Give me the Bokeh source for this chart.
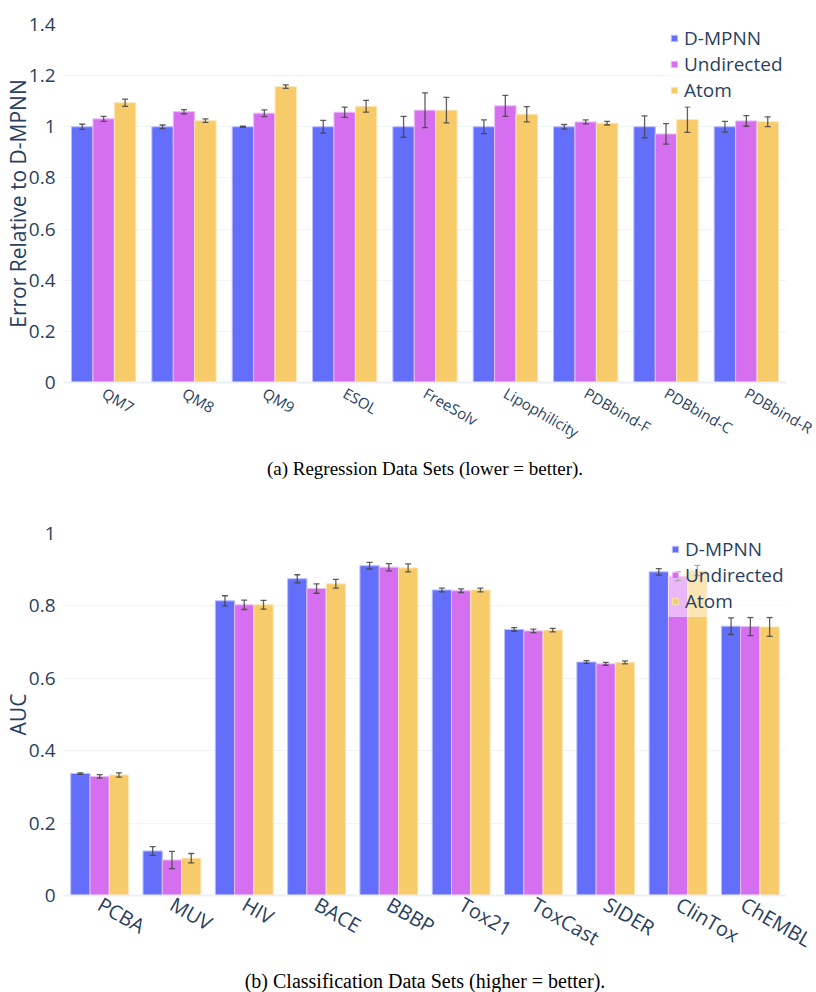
import math
from bokeh.plotting import figure
from bokeh.models import (ColumnDataSource, FactorRange, Range1d, FixedTicker,
                          NumeralTickFormatter, Legend, LegendItem, Title)
from bokeh.transform import dodge
from bokeh.layouts import column
from bokeh.embed import file_html
from bokeh.resources import INLINE

# ---------------- data ----------------
reg_cats = ["QM7", "QM8", "QM9", "ESOL", "FreeSolv", "Lipophilicity",
            "PDBbind-F", "PDBbind-C", "PDBbind-R"]
reg_dmpnn = [1.0, 1.0, 1.0, 1.0, 1.0, 1.0, 1.0, 1.0, 1.0]
reg_dmpnn_err = [0.010, 0.007, 0.002, 0.025, 0.041, 0.027, 0.009, 0.043, 0.021]
reg_undir = [1.031, 1.059, 1.053, 1.057, 1.065, 1.082, 1.019, 0.972, 1.023]
reg_undir_err = [0.010, 0.008, 0.013, 0.020, 0.068, 0.041, 0.008, 0.040, 0.021]
reg_atom = [1.094, 1.024, 1.157, 1.080, 1.065, 1.049, 1.014, 1.028, 1.020]
reg_atom_err = [0.014, 0.007, 0.007, 0.023, 0.050, 0.030, 0.007, 0.050, 0.019]

cls_cats = ["PCBA", "MUV", "HIV", "BACE", "BBBP", "Tox21", "ToxCast",
            "SIDER", "ClinTox", "ChEMBL"]
cls_dmpnn = [0.337, 0.123, 0.814, 0.875, 0.911, 0.844, 0.735, 0.645, 0.894, 0.744]
cls_dmpnn_err = [0.002, 0.012, 0.014, 0.011, 0.009, 0.005, 0.005, 0.004, 0.009, 0.023]
cls_undir = [0.329, 0.098, 0.803, 0.848, 0.907, 0.842, 0.731, 0.640, 0.882, 0.743]
cls_undir_err = [0.005, 0.024, 0.013, 0.013, 0.010, 0.005, 0.005, 0.004, 0.012, 0.025]
cls_atom = [0.333, 0.103, 0.803, 0.861, 0.905, 0.844, 0.733, 0.644, 0.898, 0.742]
cls_atom_err = [0.006, 0.013, 0.012, 0.012, 0.011, 0.005, 0.005, 0.004, 0.014, 0.026]

series_names = ["D-MPNN", "Undirected", "Atom"]
colors = ["#636efa", "#d56ff0", "#f7ca6a"]
edge_colors = ["#b9bffc", "#ecbcf8", "#fbe6b8"]

reg_ticks = [0, 0.2, 0.4, 0.6, 0.8, 1.0, 1.2, 1.4]
cls_ticks = [0, 0.2, 0.4, 0.6, 0.8, 1.0]

FONT = "Open Sans"
TXT = "#2a3f5f"
GRID = "#f1f3f8"
BW = 0.8 / 3


def make_chart(cats, vals, errs, ylabel, yrange, yticks, width, height,
               borders, xfont, xstandoff, legend_loc, legend_pad, caption,
               cap_font, cap_standoff):
    p = figure(x_range=FactorRange(factors=cats, range_padding=0),
               y_range=Range1d(*yrange), width=width, height=height,
               output_backend="svg", toolbar_location=None,
               min_border_left=borders[0], min_border_right=borders[1],
               min_border_top=borders[2], min_border_bottom=borders[3])
    p.outline_line_color = None
    items = []
    offsets = [-BW, 0.0, BW]
    for k in range(3):
        src = ColumnDataSource(dict(cat=cats, v=vals[k],
                                    lo=[a - b for a, b in zip(vals[k], errs[k])],
                                    hi=[a + b for a, b in zip(vals[k], errs[k])]))
        xd = dodge("cat", offsets[k], range=p.x_range)
        r = p.vbar(x=xd, top="v", width=BW, source=src,
                   fill_color=colors[k], line_color=edge_colors[k], line_width=1)
        p.segment(x0=xd, y0="lo", x1=xd, y1="hi", source=src,
                  line_color="#444444", line_alpha=0.85, line_width=1.3)
        p.scatter(x=xd, y="lo", source=src, marker="dash", size=6,
                  line_color="#444444", line_alpha=0.85, line_width=1.3)
        p.scatter(x=xd, y="hi", source=src, marker="dash", size=6,
                  line_color="#444444", line_alpha=0.85, line_width=1.3)
        items.append(LegendItem(label=series_names[k], renderers=[r]))

    p.xgrid.grid_line_color = None
    p.ygrid.grid_line_color = GRID
    p.ygrid.grid_line_width = 1
    p.yaxis.ticker = FixedTicker(ticks=yticks)
    p.yaxis.formatter = NumeralTickFormatter(format="0.[0]")
    p.yaxis.axis_line_color = None
    p.yaxis.major_tick_line_color = None
    p.yaxis.minor_tick_line_color = None
    p.yaxis.major_label_text_font = FONT
    p.yaxis.major_label_text_font_size = "19px"
    p.yaxis.major_label_text_color = TXT
    p.yaxis.major_label_standoff = 2
    p.yaxis.axis_label = ylabel
    p.yaxis.axis_label_text_font = FONT
    p.yaxis.axis_label_text_font_size = "21px"
    p.yaxis.axis_label_text_font_style = "normal"
    p.yaxis.axis_label_text_color = TXT
    p.yaxis.axis_label_standoff = -6

    p.xaxis.axis_line_color = "#ebf0f8"
    p.xaxis.axis_line_width = 2
    p.xaxis.major_tick_line_color = None
    p.xaxis.minor_tick_line_color = None
    p.xaxis.major_label_orientation = -math.pi / 6
    p.xaxis.major_label_text_font = FONT
    p.xaxis.major_label_text_font_size = xfont
    p.xaxis.major_label_text_color = TXT
    p.xaxis.major_label_standoff = xstandoff

    legend = Legend(items=items, location=legend_loc, orientation="vertical",
                    glyph_width=8, glyph_height=8, label_standoff=6,
                    label_text_font=FONT, label_text_font_size="19px",
                    label_text_color=TXT, label_height=20, spacing=0,
                    padding=legend_pad, margin=0, border_line_alpha=0,
                    background_fill_color="white", background_fill_alpha=0.5)
    p.add_layout(legend)

    t = Title(text=caption, align="center", text_font="Liberation Serif",
              text_font_size=cap_font, text_font_style="normal",
              text_color="black", standoff=cap_standoff)
    p.add_layout(t, "below")
    return p


H1 = 486
H2 = 992 - H1
p1 = make_chart(reg_cats, [reg_dmpnn, reg_undir, reg_atom],
                [reg_dmpnn_err, reg_undir_err, reg_atom_err],
                "Error Relative to D-MPNN", (0, 1.4), reg_ticks,
                816, H1, (62, 30, 24, H1 - 382), "15px", 3, (603, 275), 4,
                "(a) Regression Data Sets (lower = better).", "19px", 5)
p2 = make_chart(cls_cats, [cls_dmpnn, cls_undir, cls_atom],
                [cls_dmpnn_err, cls_undir_err, cls_atom_err],
                "AUC", (0, 1.0), cls_ticks,
                816, H2, (62, 29, 533 - H1, 992 - 895), "20px", 1, (605, 278), 3,
                "(b) Classification Data Sets (higher = better).", "20px", 0)

layout = column(p1, p2, spacing=0)
open("out.html", "w").write(file_html(layout, INLINE))
